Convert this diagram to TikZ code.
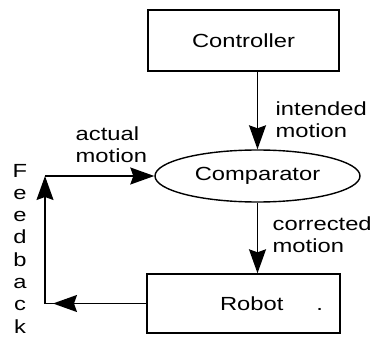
\documentclass[tikz,border=0pt]{standalone}
\usepackage{fontspec}
\setmainfont{Liberation Sans}[FakeStretch=1.25]
\usetikzlibrary{shapes.geometric,arrows.meta}

\begin{document}
\begin{tikzpicture} [x=1pt, y=-1pt, line width=1.4pt,
		font=\fontsize{19}{22}\selectfont,
		box/.style={draw, rectangle, inner sep=0pt},
		lbl/.style={anchor=base west, align=left, inner sep=0pt},
		arr/.style={-{Stealth[length=24pt,width=17pt,inset=3pt]}}]
		\useasboundingbox (0,0) rectangle (375,337);
		\node[box, minimum width=191, minimum height=61] (ctrl) at (243.5,40.5) {Controller};
		\node[draw, ellipse, inner sep=0pt, minimum width=205, minimum height=52] (comp) at (257.5,176) {Comparator};
		\node[box, minimum width=193, minimum height=59] (robot) at (243.5,303.5) {\hspace*{56pt}Robot\hspace{33pt}.};
		\coordinate (fbl) at (45,303.5);
		\coordinate (fbu) at (fbl |- comp.west);
		\draw[arr] (ctrl.south -| comp.north) -- (comp.north);
		\draw[arr] (comp.south) -- (robot.north -| comp.south);
		\draw[arr, shorten >=8pt] (robot.west) -- (fbl);
		\draw (robot.west) -- (fbl);
		\draw[arr] (fbl) -- (fbu);
		\draw[arr] (fbu) -- (comp.west);
		\node[lbl] (intended) at (275,137) {intended\\motion};
		\node[lbl] (corrected) at (272,252) {corrected\\motion};
		\node[lbl] (actual) at (75,162) {actual\\motion};
		\foreach \ch [count=\i] in {F,e,e,d,b,a,c,k}
			\node[anchor=base, inner sep=0pt] (fb\i) at (20,{177+22.3*(\i-1)}) {\ch};
		\end{tikzpicture}
\end{document}
